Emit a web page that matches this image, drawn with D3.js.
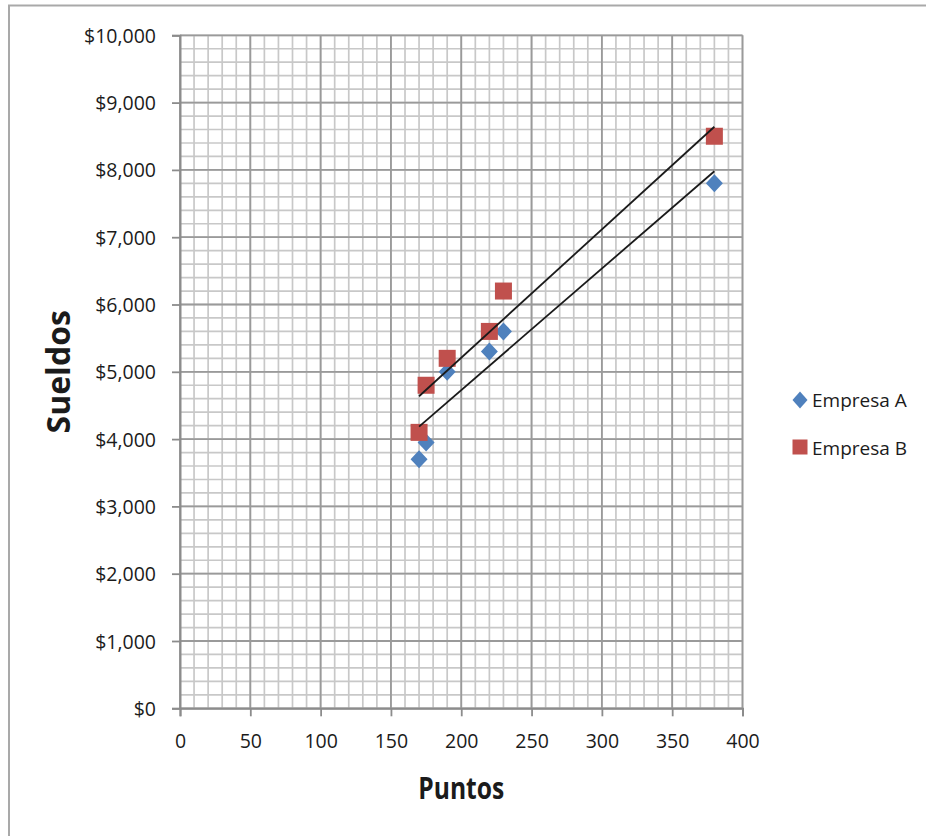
<!DOCTYPE html>
<html>
<head>
<meta charset="utf-8">
<script src="https://cdn.jsdelivr.net/npm/d3@7"></script>
<style>
  html, body { margin: 0; padding: 0; background: #fff; }
  svg { display: block; }
  text { font-family: "Open Sans", "Noto Sans", sans-serif; fill: #1b1b1b; }
</style>
</head>
<body>
<svg id="chart" width="926" height="836"></svg>
<script>
// Points scored and salaries for each company
const puntos = [170, 175, 190, 220, 230, 380];
const empresaA = [3700, 3950, 5000, 5300, 5600, 7800];
const empresaB = [4100, 4800, 5200, 5600, 6200, 8500];
const seriesNames = ["Empresa A", "Empresa B"];
const xTicks = [0, 50, 100, 150, 200, 250, 300, 350, 400];
const yTicks = [0, 1000, 2000, 3000, 4000, 5000, 6000, 7000, 8000, 9000, 10000];

const svg = d3.select("#chart");

// outer chart frame
svg.append("rect")
  .attr("x", 9).attr("y", 5.5)
  .attr("width", 1000).attr("height", 1000)
  .attr("fill", "#fff").attr("stroke", "#a9a9a9").attr("stroke-width", 2);

const x = d3.scaleLinear().domain([0, 400]).range([180, 742.5]);
const y = d3.scaleLinear().domain([0, 10000]).range([708.3, 35.3]);

// minor gridlines
const g = svg.append("g");
g.selectAll("line.mx").data(d3.range(0, 401, 10)).join("line")
  .attr("x1", d => x(d)).attr("x2", d => x(d))
  .attr("y1", y(0)).attr("y2", y(10000))
  .attr("stroke", "#c8c8c8").attr("stroke-width", 1.7);
g.selectAll("line.my").data(d3.range(0, 10001, 200)).join("line")
  .attr("y1", d => y(d)).attr("y2", d => y(d))
  .attr("x1", x(0)).attr("x2", x(400))
  .attr("stroke", "#c8c8c8").attr("stroke-width", 1.7);

// major gridlines
g.selectAll("line.Mx").data(xTicks).join("line")
  .attr("x1", d => x(d)).attr("x2", d => x(d))
  .attr("y1", y(0)).attr("y2", y(10000))
  .attr("stroke", "#9a9a9a").attr("stroke-width", 1.8);
g.selectAll("line.My").data(yTicks).join("line")
  .attr("y1", d => y(d)).attr("y2", d => y(d))
  .attr("x1", x(0)).attr("x2", x(400))
  .attr("stroke", "#9a9a9a").attr("stroke-width", 1.8);

// axes
const fmt = d => "$" + d3.format(",")(d);
const yAxis = svg.append("g").attr("transform", `translate(${x(0)},0)`)
  .call(d3.axisLeft(y).tickValues(yTicks).tickFormat(fmt).tickSize(8).tickPadding(16));
const xAxis = svg.append("g").attr("transform", `translate(0,${y(0)})`)
  .call(d3.axisBottom(x).tickValues(xTicks).tickSize(8).tickPadding(13));
[xAxis, yAxis].forEach(a => {
  a.select(".domain").attr("stroke", "#8c8c8c").attr("stroke-width", 2);
  a.selectAll(".tick line").attr("stroke", "#8c8c8c").attr("stroke-width", 1.8);
  a.selectAll(".tick text").style("font-size", "19.5px").attr("fill", "#141414")
    .style("font-family", '"Open Sans", sans-serif');
});
xAxis.selectAll(".tick text").attr("dy", "0.95em");
yAxis.selectAll(".tick text").attr("dy", "0.36em");

// axis titles
svg.append("text")
  .attr("transform", `translate(70,${(y(0) + y(10000)) / 2}) rotate(-90)`)
  .attr("text-anchor", "middle")
  .style("font-size", "32px").style("font-weight", "700")
  .text("Sueldos");
svg.append("text")
  .attr("x", (x(0) + x(400)) / 2).attr("y", 799)
  .attr("text-anchor", "middle")
  .attr("textLength", 86).attr("lengthAdjust", "spacingAndGlyphs")
  .style("font-size", "30px").style("font-weight", "700")
  .text("Puntos");

// markers
const colorA = "#4f81bd", colorB = "#c0504d";
const diamond = (cx, cy, w, h) => `M${cx},${cy - h}L${cx + w},${cy}L${cx},${cy + h}L${cx - w},${cy}Z`;
svg.append("g").selectAll("path").data(puntos.map((p, i) => [p, empresaA[i]])).join("path")
  .attr("d", d => diamond(x(d[0]), y(d[1]), 8.5, 9))
  .attr("fill", colorA);
svg.append("g").selectAll("rect").data(puntos.map((p, i) => [p, empresaB[i]])).join("rect")
  .attr("x", d => x(d[0]) - 8.5).attr("y", d => y(d[1]) - 8.5)
  .attr("width", 17).attr("height", 17)
  .attr("fill", colorB);

// least-squares trendlines
function fit(xs, ys) {
  const mx = d3.mean(xs), my = d3.mean(ys);
  const sxy = d3.sum(xs, (v, i) => (v - mx) * (ys[i] - my));
  const sxx = d3.sum(xs, v => (v - mx) * (v - mx));
  const b = sxy / sxx, a = my - b * mx;
  return v => a + b * v;
}
const [x0, x1] = d3.extent(puntos);
[empresaA, empresaB].forEach(ys => {
  const f = fit(puntos, ys);
  svg.append("line")
    .attr("x1", x(x0)).attr("y1", y(f(x0)))
    .attr("x2", x(x1)).attr("y2", y(f(x1)))
    .attr("stroke", "#1a1a1a").attr("stroke-width", 1.8);
});

// legend
const legend = svg.append("g");
legend.append("path").attr("d", diamond(800, 400, 7.5, 8.5)).attr("fill", colorA);
legend.append("rect").attr("x", 792.5).attr("y", 439.5).attr("width", 15).attr("height", 15).attr("fill", colorB);
legend.selectAll("text").data(seriesNames).join("text")
  .attr("x", 812).attr("y", (d, i) => 407 + i * 48)
  .style("font-size", "19px")
  .text(d => d);
</script>
</body>
</html>
